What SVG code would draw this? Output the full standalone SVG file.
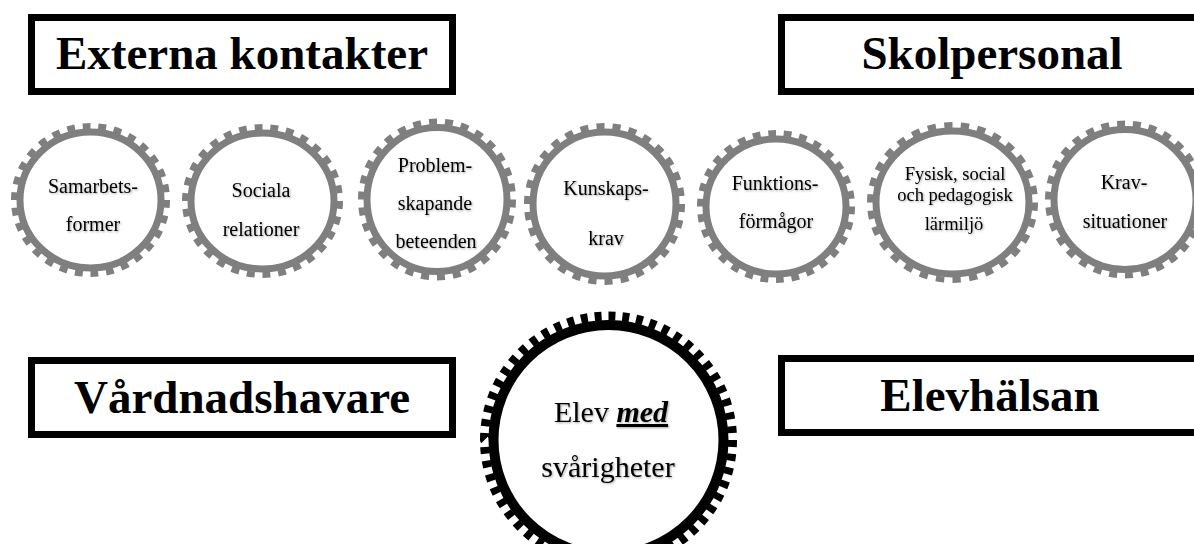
<svg xmlns="http://www.w3.org/2000/svg" width="1194" height="544" viewBox="0 0 1194 544">
<style>
.box{fill:#fff;stroke:#000;stroke-width:7}
.bt{font-family:"Liberation Serif","Times New Roman",serif;font-weight:bold;font-size:47px;fill:#000;text-anchor:middle}
.ring{fill:#fff;stroke:#7f7f7f;stroke-width:7}
.teeth{fill:none;stroke:#7f7f7f;stroke-width:6;stroke-dasharray:1 1}
.bring{fill:#fff;stroke:#000;stroke-width:10}
.bteeth{fill:none;stroke:#000;stroke-width:9;stroke-dasharray:1 1}
.gt{font-family:"Liberation Serif","Times New Roman",serif;font-size:20px;fill:#000;text-anchor:middle;filter:url(#sh)}
.gs{font-size:18.5px}
.big{font-size:30px}
</style>
<defs>
<filter id="sh" x="-10%" y="-30%" width="120%" height="160%">
<feDropShadow dx="1" dy="1" stdDeviation="1" flood-color="#000" flood-opacity="0.35"/>
</filter>
</defs>
<rect width="1194" height="544" fill="#fff"/>

<g id="externa">
<rect class="box" x="31.5" y="17.5" width="421" height="74"/>
<text class="bt" x="242" y="69">Externa kontakter</text>
</g>
<g id="skolpersonal">
<rect class="box" x="781.5" y="17.5" width="430" height="74"/>
<text class="bt" x="992" y="69">Skolpersonal</text>
</g>
<g id="vardnadshavare">
<rect class="box" x="31.5" y="360.5" width="421" height="74"/>
<text class="bt" x="242" y="413">Vårdnadshavare</text>
</g>
<g id="elevhalsan">
<rect class="box" x="781.5" y="358.5" width="430" height="74"/>
<text class="bt" x="990" y="411">Elevhälsan</text>
</g>

<g id="g-samarbetsformer">
<ellipse class="teeth" cx="90.5" cy="200" rx="76.5" ry="74" pathLength="60"/>
<ellipse class="ring" cx="90.5" cy="200" rx="70.5" ry="68"/>
<text class="gt" x="93" y="193">Samarbets-</text>
<text class="gt" x="93" y="231">former</text>
</g>
<g id="g-sociala">
<ellipse class="teeth" cx="262.5" cy="201" rx="77.5" ry="74" pathLength="60"/>
<ellipse class="ring" cx="262.5" cy="201" rx="71.5" ry="68"/>
<text class="gt" x="261" y="197">Sociala</text>
<text class="gt" x="261" y="236">relationer</text>
</g>
<g id="g-problem">
<ellipse class="teeth" cx="437" cy="199.5" rx="76" ry="78" pathLength="60"/>
<ellipse class="ring" cx="437" cy="199.5" rx="70" ry="72"/>
<text class="gt" x="435" y="172">Problem-</text>
<text class="gt" x="435" y="210">skapande</text>
<text class="gt" x="436" y="248">beteenden</text>
</g>
<g id="g-kunskapskrav">
<ellipse class="teeth" cx="604.5" cy="204" rx="77.5" ry="78" pathLength="60"/>
<ellipse class="ring" cx="604.5" cy="204" rx="71.5" ry="72"/>
<text class="gt" x="606" y="195">Kunskaps-</text>
<text class="gt" x="606" y="245">krav</text>
</g>
<g id="g-funktion">
<ellipse class="teeth" cx="776" cy="206.5" rx="76" ry="73.5" pathLength="60"/>
<ellipse class="ring" cx="776" cy="206.5" rx="70" ry="67.5"/>
<text class="gt" x="775" y="190">Funktions-</text>
<text class="gt" x="776" y="228">förmågor</text>
</g>
<g id="g-larmiljo">
<ellipse class="teeth" cx="952.5" cy="202.5" rx="82.5" ry="77.5" pathLength="60"/>
<ellipse class="ring" cx="952.5" cy="202.5" rx="76.5" ry="71.5"/>
<text class="gt gs" x="955" y="180">Fysisk, social</text>
<text class="gt gs" x="955" y="201">och pedagogisk</text>
<text class="gt gs" x="954" y="230">lärmiljö</text>
</g>
<g id="g-kravsituationer">
<ellipse class="teeth" cx="1125" cy="199.5" rx="77" ry="76" pathLength="60"/>
<ellipse class="ring" cx="1125" cy="199.5" rx="71" ry="70"/>
<text class="gt" x="1124" y="189">Krav-</text>
<text class="gt" x="1125" y="228">situationer</text>
</g>

<g id="g-elev">
<circle class="bteeth" cx="608.5" cy="440" r="124" pathLength="112"/>
<circle class="bring" cx="608.5" cy="440" r="115"/>
<text class="gt big" x="611" y="422">Elev <tspan font-weight="bold" font-style="italic" text-decoration="underline">med</tspan></text>
<text class="gt big" x="608" y="477">svårigheter</text>
</g>

<g id="connectors"></g>
</svg>
